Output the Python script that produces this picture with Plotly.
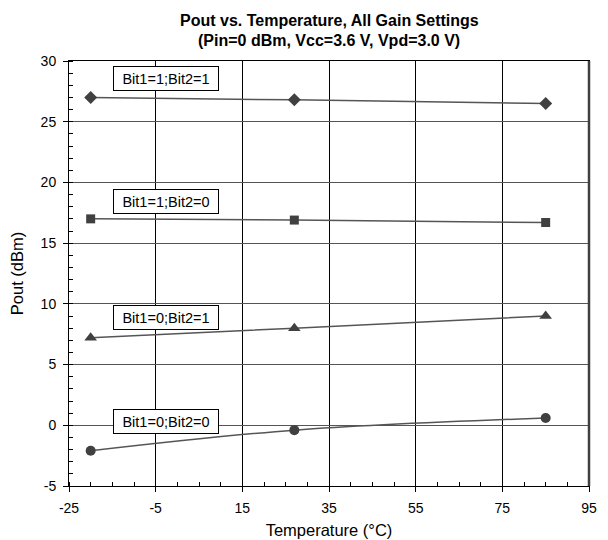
import plotly.graph_objects as go

temps = [-20, 27, 85]
s11 = [27.0, 26.8, 26.5]
s10 = [17.0, 16.9, 16.7]
s01 = [7.2, 8.0, 9.0]
s00 = [-2.1, -0.4, 0.6]
labels = ["Bit1=1;Bit2=1", "Bit1=1;Bit2=0", "Bit1=0;Bit2=1", "Bit1=0;Bit2=0"]
label_y = [28.6, 18.4, 8.9, 0.3]
label_x = -2.7

x_ticks = [-25, -5, 15, 35, 55, 75, 95]
y_ticks = [-5, 0, 5, 10, 15, 20, 25, 30]

title_lines = ["Pout vs. Temperature, All Gain Settings", "(Pin=0 dBm, Vcc=3.6 V, Vpd=3.0 V)"]

series = [(s11, "diamond", 10), (s10, "square", 9), (s01, "triangle-up", 11), (s00, "circle", 10)]

FONT = "Liberation Sans, Arial"
# page body has an 8px default margin; compensate so the figure lands at the reference spot
OFF = 8
fig = go.Figure()
for (vals, sym, sz), name in zip(series, labels):
    fig.add_trace(go.Scatter(
        x=temps, y=vals, mode="lines+markers", name=name,
        line=dict(color="#555555", width=1.5, shape="spline"),
        marker=dict(symbol=sym, size=sz, color="#404040"),
        showlegend=False,
    ))

for txt, yy in zip(labels, label_y):
    fig.add_annotation(
        x=label_x, y=yy, xref="x", yref="y", text=txt, showarrow=False,
        font=dict(family=FONT, size=14.5, color="black"),
        width=96, height=15, align="center",
        bgcolor="white", bordercolor="black", borderwidth=1, borderpad=4,
    )

# title lines (pixel centres y=20 and y=41 in the page)
PLOT_TOP, PLOT_BOT = 61, 486
for line, py in zip(title_lines, [20, 41]):
    fig.add_annotation(
        x=0.5, y=(PLOT_BOT - py) / (PLOT_BOT - PLOT_TOP), xref="paper", yref="paper",
        xanchor="center", yanchor="middle", text="<b>" + line + "</b>", showarrow=False,
        font=dict(family=FONT, size=16, color="black"),
    )

fig.add_shape(type="line", xref="paper", yref="paper", x0=1, x1=1, y0=0, y1=1,
              line=dict(color="#404040", width=2.5))

W, H = 608 - OFF, 540 - OFF
fig.update_layout(
    width=W, height=H,
    margin=dict(l=69 - OFF, r=19, t=PLOT_TOP - OFF, b=54, autoexpand=False),
    paper_bgcolor="white", plot_bgcolor="white",
    font=dict(family=FONT, size=14, color="black"),
)
fig.update_xaxes(
    range=[-25, 95], tickvals=x_ticks, ticktext=[str(v) for v in x_ticks],
    showgrid=True, gridcolor="black", gridwidth=1,
    showline=True, linecolor="black", linewidth=1, mirror=True,
    ticks="outside", ticklen=5, tickcolor="black", ticklabelstandoff=4,
    minor=dict(dtick=5, ticks="inside", ticklen=4, tickcolor="black", showgrid=False),
    zeroline=False, automargin=False,
    title=dict(text="Temperature (°C)", standoff=9, font=dict(size=16.5)),
)
fig.update_yaxes(
    range=[-5, 30], tickvals=y_ticks, ticktext=[str(v) for v in y_ticks],
    showgrid=True, gridcolor="#555555", gridwidth=1,
    showline=True, linecolor="black", linewidth=1, mirror=True,
    ticks="outside", ticklen=5, tickcolor="black", ticklabelstandoff=4,
    minor=dict(dtick=1, ticks="inside", ticklen=4, tickcolor="black", showgrid=False),
    zeroline=False, automargin=False,
    title=dict(text="Pout (dBm)", standoff=14, font=dict(size=16.5)),
)

fig.write_html("out.html")
